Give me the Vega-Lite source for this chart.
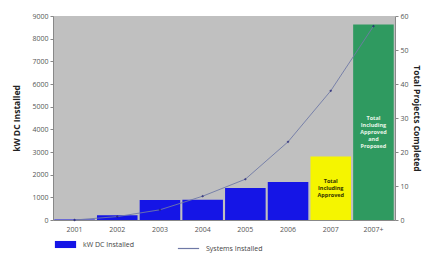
{
  "$schema": "https://vega.github.io/schema/vega-lite/v6.json",
  "width": 342,
  "height": 204,
  "autosize": {"type": "none"},
  "padding": {"left": 53, "top": 16, "right": 29, "bottom": 37},
  "background": "white",
  "config": {
    "view": {"fill": "#c0c0c0", "stroke": null},
    "font": "Open Sans",
    "axis": {"labelColor": "#555", "labelFontSize": 7, "tickColor": "#888", "domainColor": "#888", "titleColor": "#222", "titleFont": "Open Sans", "titleFontWeight": "bold", "titleFontSize": 8.5}
  },
  "datasets": {
    "bars": [
      {"year": "2001", "kw": 20, "color": "#1515e6", "group": "installed"},
      {"year": "2002", "kw": 210, "color": "#1515e6", "group": "installed"},
      {"year": "2003", "kw": 880, "color": "#1515e6", "group": "installed"},
      {"year": "2004", "kw": 890, "color": "#1515e6", "group": "installed"},
      {"year": "2005", "kw": 1410, "color": "#1515e6", "group": "installed"},
      {"year": "2006", "kw": 1680, "color": "#1515e6", "group": "installed"},
      {"year": "2007", "kw": 2800, "color": "#f5f500", "group": "other"},
      {"year": "2007+", "kw": 8620, "color": "#2f9a60", "group": "other"}
    ],
    "systems": [
      {"year": "2001", "n": 0},
      {"year": "2002", "n": 1},
      {"year": "2003", "n": 3},
      {"year": "2004", "n": 7},
      {"year": "2005", "n": 12},
      {"year": "2006", "n": 23},
      {"year": "2007", "n": 38},
      {"year": "2007+", "n": 57}
    ],
    "labels": [
      {"year": "2007", "kw": 1720, "text": "Total\nIncluding\nApproved", "tcolor": "#333300"},
      {"year": "2007+", "kw": 4500, "text": "Total\nIncluding\nApproved\nand\nProposed", "tcolor": "#e8f5e8"}
    ]
  },
  "encoding": {
    "x": {"field": "year", "type": "ordinal", "sort": ["2001","2002","2003","2004","2005","2006","2007","2007+"],
      "scale": {"paddingInner": 0.05, "paddingOuter": 0.03},
      "axis": {"title": null, "labelAngle": 0, "ticks": false, "labelPadding": 5, "labelFontSize": 7}}
  },
  "layer": [
    {
      "encoding": {
        "y": {"field": "kw", "type": "quantitative", "scale": {"domain": [0, 9000], "nice": false},
          "axis": {"orient": "left", "title": "kW DC Installed", "values": [0,1000,2000,3000,4000,5000,6000,7000,8000,9000], "grid": false, "format": "d", "titlePadding": 10, "tickSize": 3}}
      },
      "layer": [
        {
          "data": {"name": "bars"},
          "transform": [{"filter": "datum.group === 'installed'"}],
          "mark": {"type": "bar"},
          "encoding": {
            "fill": {"datum": "kW DC Installed", "type": "nominal",
              "scale": {"range": ["#1515e6"]},
              "legend": {"title": null, "orient": "none", "legendX": 5, "legendY": 221, "symbolType": "M-1.5,-0.5H1.5V0.5H-1.5Z", "symbolSize": 200, "symbolStrokeWidth": 0, "labelFontSize": 7, "labelColor": "#444", "labelOffset": 10}}
          }
        },
        {
          "data": {"name": "bars"},
          "transform": [{"filter": "datum.group === 'other'"}],
          "mark": {"type": "bar"},
          "encoding": {
            "color": {"field": "color", "type": "nominal", "scale": null}
          }
        },
        {
          "data": {"name": "labels"},
          "mark": {"type": "text", "lineBreak": "\n", "fontSize": 5.5, "fontWeight": "bold", "lineHeight": 7, "baseline": "middle"},
          "encoding": {
            "text": {"field": "text"},
            "color": {"field": "tcolor", "type": "nominal", "scale": null}
          }
        }
      ]
    },
    {
      "data": {"name": "systems"},
      "encoding": {
        "y": {"field": "n", "type": "quantitative", "scale": {"domain": [0, 60], "nice": false},
          "axis": {"orient": "right", "title": "Total Projects Completed", "values": [0,10,20,30,40,50,60], "grid": false, "titlePadding": 3, "tickSize": 3}}
      },
      "layer": [
        {
          "mark": {"type": "line", "strokeWidth": 0.9},
          "encoding": {
            "stroke": {"datum": "Systems Installed", "type": "nominal", "scale": {"range": ["#6f79a6"]},
              "legend": {"title": null, "orient": "none", "legendX": 124, "legendY": 221, "symbolType": "stroke", "symbolSize": 450, "symbolStrokeWidth": 1.2, "labelFontSize": 7, "labelColor": "#444", "labelOffset": 6}}
          }
        },
        {
          "mark": {"type": "point", "shape": "diamond", "filled": true, "size": 8, "color": "#1a1a70"}
        }
      ]
    }
  ],
  "resolve": {"scale": {"y": "independent"}}
}
